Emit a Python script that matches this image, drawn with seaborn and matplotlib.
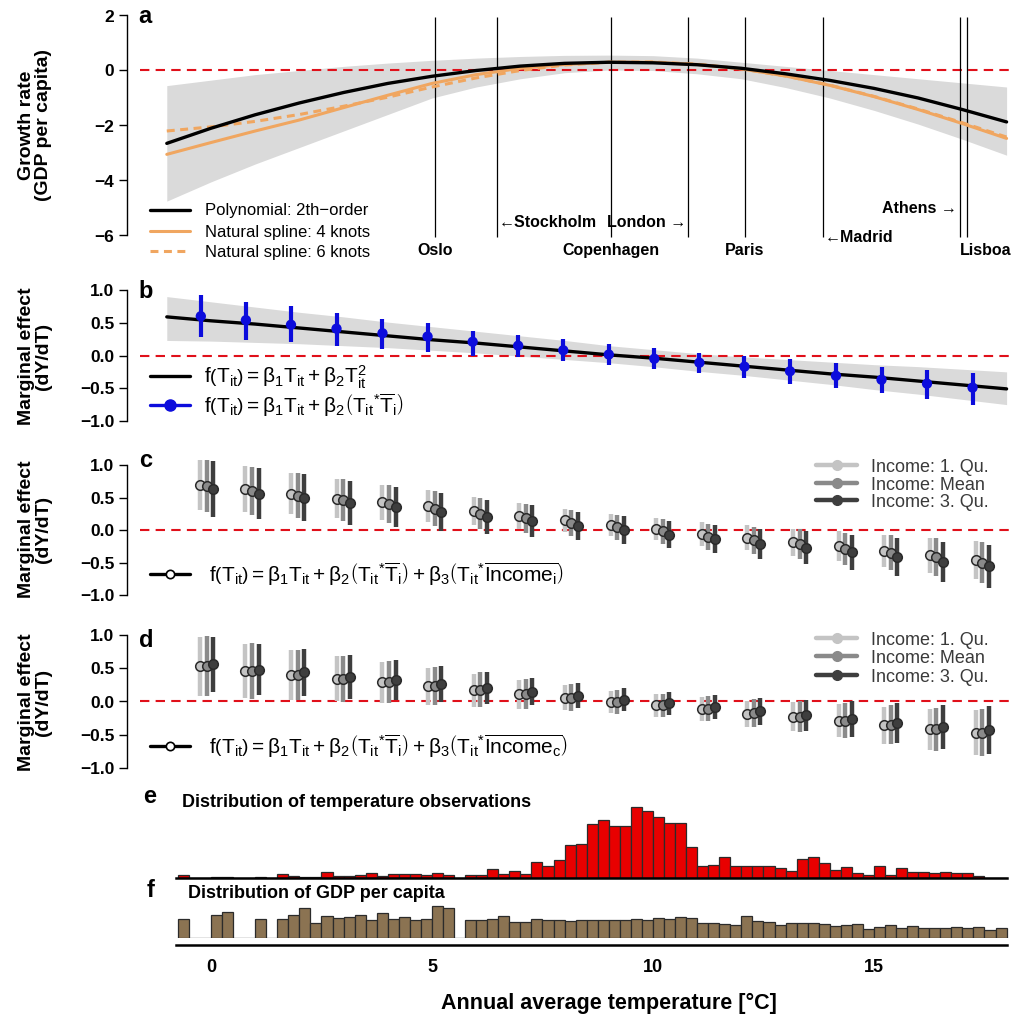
import numpy as np
import pandas as pd
import matplotlib
matplotlib.use("Agg")
import matplotlib.pyplot as plt
import seaborn as sns
from matplotlib.lines import Line2D

# ---------------- data ----------------
T_grid = [-1, 0, 1, 2, 3, 4, 5, 6, 7, 8, 9, 10, 11, 12, 13, 14, 15, 16, 17, 18]
a_poly = [-2.65, -2.10, -1.61, -1.18, -0.80, -0.47, -0.21, 0.00, 0.16, 0.26, 0.30, 0.28,
          0.21, 0.08, -0.12, -0.36, -0.65, -1.00, -1.42, -1.87]
a_ns4 = [-3.05, -2.62, -2.20, -1.80, -1.35, -0.90, -0.47, -0.15, 0.08, 0.22, 0.30, 0.30,
         0.22, 0.06, -0.20, -0.54, -0.95, -1.42, -1.93, -2.47]
a_ns6 = [-2.20, -2.05, -1.85, -1.60, -1.30, -0.97, -0.60, -0.27, 0.00, 0.20, 0.30, 0.31,
         0.23, 0.06, -0.20, -0.53, -0.94, -1.40, -1.90, -2.42]
a_ci_hi = [-0.55, -0.35, -0.15, 0.00, 0.15, 0.27, 0.37, 0.45, 0.51, 0.55, 0.56, 0.54,
           0.45, 0.30, 0.15, 0.00, -0.15, -0.30, -0.45, -0.60]
a_ci_lo = [-4.75, -4.05, -3.40, -2.80, -2.20, -1.60, -1.00, -0.60, -0.30, -0.08, 0.02, 0.00,
           -0.12, -0.30, -0.62, -1.00, -1.45, -1.95, -2.50, -3.08]

city_names = ["Oslo", "Stockholm", "Copenhagen", "London", "Paris", "Madrid", "Athens", "Lisboa"]
city_T = [5.07, 6.47, 9.05, 10.79, 12.08, 13.85, 16.95, 17.10]

b_poly = [0.59, 0.53, 0.48, 0.42, 0.36, 0.30, 0.24, 0.19, 0.13, 0.07, 0.01, -0.04,
          -0.10, -0.16, -0.22, -0.28, -0.33, -0.39, -0.45, -0.51]
b_ci_hi = [0.90, 0.82, 0.74, 0.66, 0.59, 0.51, 0.44, 0.37, 0.30, 0.23, 0.15, 0.09,
           0.03, -0.02, -0.06, -0.10, -0.14, -0.17, -0.21, -0.25]
b_ci_lo = [0.23, 0.22, 0.20, 0.18, 0.15, 0.12, 0.08, 0.04, -0.01, -0.06, -0.11, -0.17,
           -0.24, -0.30, -0.37, -0.44, -0.52, -0.59, -0.67, -0.75]

b_x = [-0.23, 0.79, 1.81, 2.84, 3.88, 4.90, 5.92, 6.95, 7.97, 9.00, 10.03, 11.05,
       12.07, 13.10, 14.14, 15.17, 16.20, 17.23]
b_mean = [0.60, 0.54, 0.47, 0.41, 0.34, 0.29, 0.21, 0.15, 0.08, 0.015, -0.05, -0.11,
          -0.17, -0.24, -0.31, -0.37, -0.43, -0.49]
b_hi = [0.93, 0.82, 0.76, 0.65, 0.56, 0.49, 0.38, 0.32, 0.25, 0.18, 0.12, 0.04,
        -0.01, -0.06, -0.12, -0.17, -0.22, -0.27]
b_lo = [0.29, 0.24, 0.20, 0.15, 0.10, 0.06, 0.00, -0.02, -0.08, -0.15, -0.20, -0.27,
        -0.34, -0.43, -0.50, -0.58, -0.67, -0.76]

grp_x = [-0.10, 0.93, 1.96, 2.99, 4.03, 5.06, 6.09, 7.12, 8.15, 9.19, 10.22, 11.25,
         12.28, 13.32, 14.35, 15.38, 16.41, 17.45]
income_groups = ["Income: 1. Qu.", "Income: Mean", "Income: 3. Qu."]

c_light = [0.70, 0.63, 0.56, 0.48, 0.43, 0.37, 0.29, 0.22, 0.15, 0.08, 0.01, -0.06,
           -0.12, -0.19, -0.25, -0.32, -0.39, -0.46]
c_mid = [0.68, 0.60, 0.53, 0.46, 0.40, 0.33, 0.25, 0.18, 0.11, 0.04, -0.02, -0.10,
         -0.16, -0.22, -0.29, -0.35, -0.42, -0.50]
c_dark = [0.63, 0.56, 0.50, 0.42, 0.35, 0.28, 0.20, 0.14, 0.06, 0.00, -0.07, -0.14,
          -0.21, -0.27, -0.34, -0.41, -0.49, -0.56]
c_err_light = [0.39, 0.35, 0.32, 0.30, 0.27, 0.25, 0.22, 0.20, 0.18, 0.17, 0.17, 0.18,
               0.19, 0.21, 0.23, 0.25, 0.27, 0.29]
c_err_mid = [0.41, 0.37, 0.34, 0.32, 0.29, 0.27, 0.24, 0.22, 0.20, 0.19, 0.19, 0.20,
             0.21, 0.23, 0.25, 0.27, 0.29, 0.31]
c_err_dark = [0.43, 0.39, 0.36, 0.34, 0.31, 0.29, 0.26, 0.24, 0.22, 0.21, 0.21, 0.22,
              0.23, 0.25, 0.27, 0.29, 0.31, 0.33]

d_light = [0.53, 0.46, 0.40, 0.34, 0.29, 0.23, 0.17, 0.11, 0.06, -0.01, -0.06, -0.11,
           -0.19, -0.23, -0.29, -0.36, -0.42, -0.47]
d_mid = [0.54, 0.46, 0.40, 0.34, 0.29, 0.23, 0.18, 0.11, 0.06, -0.01, -0.06, -0.11,
         -0.17, -0.23, -0.29, -0.35, -0.42, -0.47]
d_dark = [0.56, 0.48, 0.44, 0.37, 0.32, 0.26, 0.20, 0.15, 0.09, 0.03, -0.03, -0.08,
          -0.15, -0.21, -0.26, -0.33, -0.39, -0.43]
d_err_light = [0.44, 0.41, 0.37, 0.34, 0.31, 0.28, 0.25, 0.22, 0.19, 0.17, 0.17, 0.18,
               0.20, 0.22, 0.25, 0.28, 0.31, 0.34]
d_err_mid = [0.45, 0.42, 0.38, 0.35, 0.32, 0.29, 0.26, 0.23, 0.20, 0.18, 0.18, 0.19,
             0.21, 0.23, 0.26, 0.29, 0.32, 0.35]
d_err_dark = [0.41, 0.38, 0.35, 0.33, 0.30, 0.27, 0.24, 0.21, 0.19, 0.17, 0.17, 0.18,
              0.21, 0.24, 0.27, 0.30, 0.33, 0.36]

# histogram bars: 0.25 degC bins starting at -0.75
hist_start, hist_width = -0.75, 0.25
temp_counts = [3, 0, 0, 1, 1, 0, 0, 1, 0, 4, 2, 1, 1, 6, 2, 2, 3, 5, 2, 4, 4, 4, 3, 5, 3,
               0, 3, 3, 8.7, 4, 7.3, 4, 16.3, 12.3, 17.7, 32.7, 34, 54, 58, 51.7, 51.7,
               70.7, 67.3, 61.3, 55.3, 55.3, 30.7, 12.3, 13.3, 21.3, 12, 12, 12, 12, 9.7,
               7, 19, 21.3, 15.3, 8.3, 11, 5, 3, 12, 3, 9.7, 6, 6, 5, 6, 4.7, 4.7, 2, 0.5, 0.5]
gdp_counts = [19.3, 0, 0, 23.3, 25.7, 0, 0, 19.3, 0, 18.7, 23.3, 30.3, 15.3, 22.3, 19.7,
              21, 23.3, 17.7, 25.3, 19.3, 21, 17.7, 18.7, 31.7, 30.3, 0,
              17.7, 18.3, 19.3, 22.3, 16, 16, 18.7, 17.7, 18.3, 17, 18.3, 18.3, 18.3, 17.7,
              18.3, 19.3, 18.3, 19.7, 19, 21, 19.7, 15.3, 15.3, 14.3, 13.3, 22, 16.7, 16,
              12.7, 15.3, 15.3, 15.3, 13.7, 12, 12.7, 14.3, 9.3, 10.7, 13, 9.7, 12, 10,
              10, 10, 11, 10, 11, 8.3, 10.3]

# ---------------- style ----------------
sns.set_theme(style="ticks")
plt.rcParams['font.family'] = ['Liberation Sans', 'DejaVu Sans']
plt.rcParams['mathtext.fontset'] = 'custom'
plt.rcParams['mathtext.rm'] = 'Liberation Sans'
plt.rcParams['mathtext.it'] = 'Liberation Sans:italic'
plt.rcParams['mathtext.bf'] = 'Liberation Sans:bold'
for key in ('text.color', 'axes.labelcolor', 'xtick.color', 'ytick.color', 'axes.edgecolor'):
    plt.rcParams[key] = 'black'

RED = '#e0101a'
ORANGE = '#f0a660'
GREYBAND = '#dadada'
BLUE = '#0c0cdc'
INC_COL = ['#c4c4c4', '#8a8a8a', '#3e3e3e']
DODGE = [-0.15, 0.0, 0.15]

W, H = 1013, 1021
fig = plt.figure(figsize=(W / 100, H / 100), dpi=100)
XL = (-1.606, 18.145)


def ax_at(top, bottom, left=140, right=1013):
    return fig.add_axes([left / W, 1 - bottom / H, (right - left) / W, (bottom - top) / H])


def style_left(ax, lo, hi, ticks, fmt):
    sns.despine(ax=ax, bottom=True)
    ax.spines['left'].set_position(('outward', 9.5))
    ax.spines['left'].set_bounds(lo, hi)
    ax.spines['left'].set_linewidth(1.0)
    ax.set_yticks(ticks)
    ax.set_yticklabels([fmt.format(t).replace('-', '\u2212') for t in ticks],
                       fontsize=12.5, fontweight='bold')
    ax.tick_params(axis='y', length=6, width=1.0, pad=3, colors='black')
    ax.set_xticks([])
    ax.set_xlim(*XL)
    ax.set_xlabel('')
    ax.set_ylabel('')


def zero_line(ax):
    ax.axhline(0, color=RED, ls=(0, (4.5, 3)), lw=1.5, zorder=2)


def row_legend(handle, label, x, y, fontsize, hlen_px, text_px, color=None):
    fs_px = fontsize * 100 / 72
    kw = dict(labelcolor=color) if color else {}
    fig.legend([handle], [label], loc='center left', bbox_to_anchor=(x / W, 1 - y / H),
               bbox_transform=fig.transFigure, frameon=False, borderpad=0, borderaxespad=0,
               handlelength=hlen_px / fs_px, handletextpad=text_px / fs_px,
               fontsize=fontsize, **kw)


# ---------------- panel a ----------------
ax_a = ax_at(6.7, 244.3)
ax_a.fill_between(T_grid, a_ci_lo, a_ci_hi, color=GREYBAND, lw=0, zorder=1)
zero_line(ax_a)
ax_a.vlines(city_T, -6.05, 1.95, color='black', lw=0.9, zorder=3)
sns.lineplot(x=T_grid, y=a_ns6, ax=ax_a, color=ORANGE, lw=2.2, zorder=4)
ax_a.lines[-1].set_dashes((2.6, 1.8))
sns.lineplot(x=T_grid, y=a_ns4, ax=ax_a, color=ORANGE, lw=2.2, zorder=4)
sns.lineplot(x=T_grid, y=a_poly, ax=ax_a, color='black', lw=2.4, zorder=5)
ax_a.set_ylim(-6.32, 2.32)
style_left(ax_a, -6, 2, [-6, -4, -2, 0, 2], '{:d}')

city_style = {
    "Oslo": dict(ha='center', y=-6.56, dx=0.0, txt="Oslo"),
    "Stockholm": dict(ha='left', y=-5.54, dx=0.04, txt="\u2190Stockholm"),
    "Copenhagen": dict(ha='center', y=-6.56, dx=0.0, txt="Copenhagen"),
    "London": dict(ha='right', y=-5.54, dx=-0.04, txt="London \u2192"),
    "Paris": dict(ha='center', y=-6.56, dx=0.0, txt="Paris"),
    "Madrid": dict(ha='left', y=-6.09, dx=0.04, txt="\u2190Madrid"),
    "Athens": dict(ha='right', y=-5.0, dx=-0.08, txt="Athens \u2192"),
    "Lisboa": dict(ha='left', y=-6.56, dx=-0.15, txt="Lisboa"),
}
for name, tx in zip(city_names, city_T):
    st = city_style[name]
    ax_a.text(tx + st['dx'], st['y'], st['txt'], ha=st['ha'], va='center', fontsize=11.5,
              fontweight='bold', clip_on=False, zorder=6)

for h, lab, yc in zip([Line2D([], [], color='black', lw=2.4),
                       Line2D([], [], color=ORANGE, lw=2.2),
                       Line2D([], [], color=ORANGE, lw=2.2, dashes=(2.6, 1.8))],
                      ["Polynomial: 2th\u2212order", "Natural spline: 4 knots", "Natural spline: 6 knots"],
                      [211, 232, 252]):
    row_legend(h, lab, 150, yc, 12, 40, 15)

# ---------------- panel b ----------------
ax_b = ax_at(284.8, 426.2)
ax_b.fill_between(T_grid, b_ci_lo, b_ci_hi, color=GREYBAND, lw=0, zorder=1)
zero_line(ax_b)
sns.lineplot(x=T_grid, y=b_poly, ax=ax_b, color='black', lw=2.4, zorder=4)
ax_b.vlines(b_x, b_lo, b_hi, color=BLUE, lw=3.0, zorder=5)
sns.scatterplot(x=b_x, y=b_mean, ax=ax_b, color=BLUE, s=55, edgecolor='none', zorder=6)
ax_b.set_ylim(-1.08, 1.08)
style_left(ax_b, -1, 1, [-1.0, -0.5, 0.0, 0.5, 1.0], '{:.1f}')

lab_b1 = r'$\mathrm{f\left(T_{it}\right) = \beta_1 T_{it} + \beta_2 T_{it}^2}$'
lab_b2 = r'$\mathrm{f\left(T_{it}\right) = \beta_1 T_{it} + \beta_2 \left(T_{it}{}^{*}\overline{T}_{i}\right)}$'
row_legend(Line2D([], [], color='black', lw=2.4), lab_b1, 150, 377, 15, 40, 14)
row_legend(Line2D([], [], color=BLUE, lw=2.4, marker='o', markersize=8), lab_b2, 150, 405, 15, 40, 14)


# ---------------- panels c, d ----------------
def income_panel(top, bottom, series, errs, formula, inc_rows, formula_y):
    ax = ax_at(top, bottom)
    zero_line(ax)
    for k, (vals, err) in enumerate(zip(series, errs)):
        xs = np.asarray(grp_x) + DODGE[k]
        v = np.asarray(vals)
        e = np.asarray(err)
        ax.vlines(xs, v - e, v + e, color=INC_COL[k], lw=3.2, zorder=3 + k)
        sns.scatterplot(x=xs, y=v, ax=ax, color=INC_COL[k], s=48, edgecolor='#2a2a2a',
                        linewidth=1.1, zorder=6 + k)
    ax.set_ylim(-1.08, 1.08)
    style_left(ax, -1, 1, [-1.0, -0.5, 0.0, 0.5, 1.0], '{:.1f}')
    for col, lab, yc in zip(INC_COL, income_groups, inc_rows):
        row_legend(Line2D([], [], color=col, lw=3.2, marker='o', markersize=7), lab,
                   816, yc, 13, 41, 14, color='#3a3a3a')
    row_legend(Line2D([], [], color='black', lw=2.4, marker='o', markersize=6,
                      markerfacecolor='white', markeredgecolor='black', markeredgewidth=1.2),
               formula, 150, formula_y, 15, 40, 19)
    return ax


lab_c = (r'$\mathrm{f\left(T_{it}\right) = \beta_1 T_{it} + \beta_2 \left(T_{it}{}^{*}\overline{T}_{i}\right)'
         r' + \beta_3 \left(T_{it}{}^{*}\overline{Income_{i}}\right)}$')
lab_d = (r'$\mathrm{f\left(T_{it}\right) = \beta_1 T_{it} + \beta_2 \left(T_{it}{}^{*}\overline{T}_{i}\right)'
         r' + \beta_3 \left(T_{it}{}^{*}\overline{Income_{c}}\right)}$')
ax_c = income_panel(459.8, 600.2, [c_light, c_mid, c_dark], [c_err_light, c_err_mid, c_err_dark],
                    lab_c, [467, 485, 502], 574)
ax_d = income_panel(629.7, 773.3, [d_light, d_mid, d_dark], [d_err_light, d_err_mid, d_err_dark],
                    lab_d, [640, 658, 677], 746)


# ---------------- panels e, f (histograms) ----------------
def hist_panel(top, bottom, counts, color, ymax):
    ax = ax_at(top, bottom)
    n = len(counts)
    lo = hist_start
    hi = hist_start + hist_width * n
    df = pd.DataFrame({'T': [lo + hist_width * (i + 0.5) for i in range(n)], 'n': counts})
    sns.histplot(data=df, x='T', weights='n', bins=n, binrange=(lo, hi), ax=ax, color=color,
                 alpha=1.0, edgecolor='#2b2b2b', linewidth=0.9)
    ax.set_xlim(*XL)
    ax.set_ylim(0, ymax)
    ax.set_yticks([])
    ax.set_ylabel('')
    sns.despine(ax=ax, left=True)
    ax.spines['bottom'].set_bounds(lo - 0.05, hi)
    return ax


ax_e = hist_panel(780, 878, temp_counts, '#e80000', 98)
ax_e.spines['bottom'].set_linewidth(1.8)
ax_e.set_xticks([])
ax_e.set_xlabel('')

ax_f = hist_panel(880, 938, gdp_counts, '#8b7352', 58)
ax_f.spines['bottom'].set_position(('outward', 5))
ax_f.spines['bottom'].set_linewidth(1.8)
ax_f.set_xticks([0, 5, 10, 15])
ax_f.set_xticklabels(['0', '5', '10', '15'], fontsize=13, fontweight='bold')
ax_f.tick_params(axis='x', length=0, pad=10)
ax_f.set_xlabel('')


# ---------------- texts ----------------
def ftext(x, y, s, **kw):
    fig.text(x / W, 1 - y / H, s, **kw)


ftext(35, 125, "Growth rate\n(GDP per capita)", rotation=90, ha='center', va='center',
      fontsize=14, fontweight='bold', linespacing=1.05)
for yc in (356, 529, 702):
    ftext(35, yc, "Marginal effect\n(dY/dT)", rotation=90, ha='center', va='center',
          fontsize=14, fontweight='bold', linespacing=1.05)
for letter, (x, y) in zip("abcdef", [(138, 23), (138, 298), (139, 467), (139, 647),
                                     (143, 803), (147, 897)]):
    ftext(x, y, letter, ha='left', va='baseline', fontsize=17, fontweight='bold')
ftext(182, 807, "Distribution of temperature observations", ha='left', va='baseline',
      fontsize=13, fontweight='bold')
ftext(188, 898, "Distribution of GDP per capita", ha='left', va='baseline',
      fontsize=13, fontweight='bold')
ftext(609, 1003, "Annual average temperature [\u00b0C]", ha='center', va='center',
      fontsize=15.5, fontweight='bold')

fig.savefig("out.png", dpi=100)
